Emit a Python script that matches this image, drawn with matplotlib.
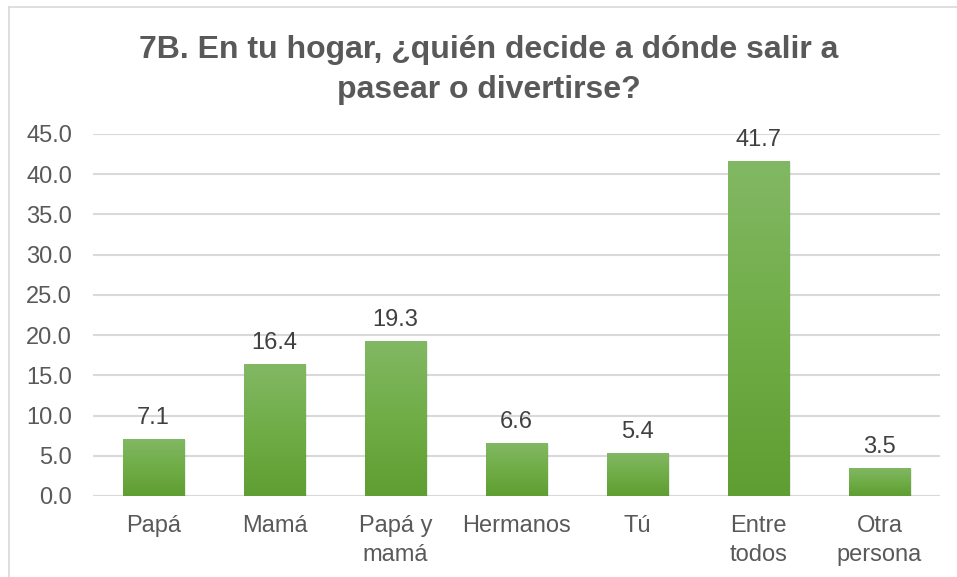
import matplotlib.pyplot as plt
from matplotlib.colors import LinearSegmentedColormap
import numpy as np

categories = ["Papá", "Mamá", "Papá y\nmamá", "Hermanos", "Tú", "Entre\ntodos", "Otra\npersona"]
values = [7.1, 16.4, 19.3, 6.6, 5.4, 41.7, 3.5]
title = "7B. En tu hogar, ¿quién decide a dónde salir a\npasear o divertirse?"

plt.rcParams['font.family'] = ['Liberation Sans', 'DejaVu Sans']
txt = "#595959"

fig = plt.figure(figsize=(9.57, 5.77), dpi=100)
ax = fig.add_axes([93 / 957, 1 - 496 / 577, 847 / 957, 362 / 577])

# outer chart border (only top and left are visible in the crop)
fig.add_artist(plt.Line2D([8.5 / 957, 8.5 / 957], [0, 1 - 7 / 577], color="#d9d9d9", lw=1.2))
fig.add_artist(plt.Line2D([8.5 / 957, 1], [1 - 7 / 577, 1 - 7 / 577], color="#d9d9d9", lw=1.2))

x = np.arange(len(categories))
bars = ax.bar(x, values, width=0.505, color="#70ad47", zorder=3)

cmap = LinearSegmentedColormap.from_list("g", ["#5f9e32", "#70ad47", "#82b864"])
grad = np.linspace(0, 1, 256).reshape(-1, 1)
for b in bars:
    x0, w, h = b.get_x(), b.get_width(), b.get_height()
    # soft shadow
    ax.bar(x0 + w / 2 + 0.008, h + 0.15, width=w + 0.016, bottom=-0.3, color="#000000",
           alpha=0.08, zorder=2, linewidth=0)
    im = ax.imshow(grad, extent=[x0, x0 + w, 0, h], origin="lower", cmap=cmap,
                   aspect="auto", zorder=4)
    im.set_clip_path(b)

for xi, v in zip(x, values):
    ax.text(xi, v + 1.2, f"{v:.1f}", ha="center", va="bottom", fontsize=17, color="#404040", zorder=5)

ax.set_xlim(-0.5, len(categories) - 0.5)
ax.set_ylim(0, 45)
ax.set_yticks(np.arange(0, 45.1, 5))
ax.set_yticklabels([f"{t:.1f}" for t in np.arange(0, 45.1, 5)])
ax.set_xticks(x)
ax.set_xticklabels(categories, linespacing=1.4)
ax.tick_params(axis="both", length=0, labelsize=17, labelcolor=txt)
ax.tick_params(axis="y", pad=15)
ax.tick_params(axis="x", pad=14)
ax.yaxis.grid(True, color="#d9d9d9", lw=1.5, zorder=0)
for s in ax.spines.values():
    s.set_visible(False)
ax.axhline(0, color="#d9d9d9", lw=1.5, zorder=1)

fig.text(0.5 + 10 / 957, 1 - 70 / 577, title, ha="center", va="center", fontsize=23,
         fontweight="bold", color=txt, linespacing=1.45)

fig.savefig("out.png", dpi=100)
